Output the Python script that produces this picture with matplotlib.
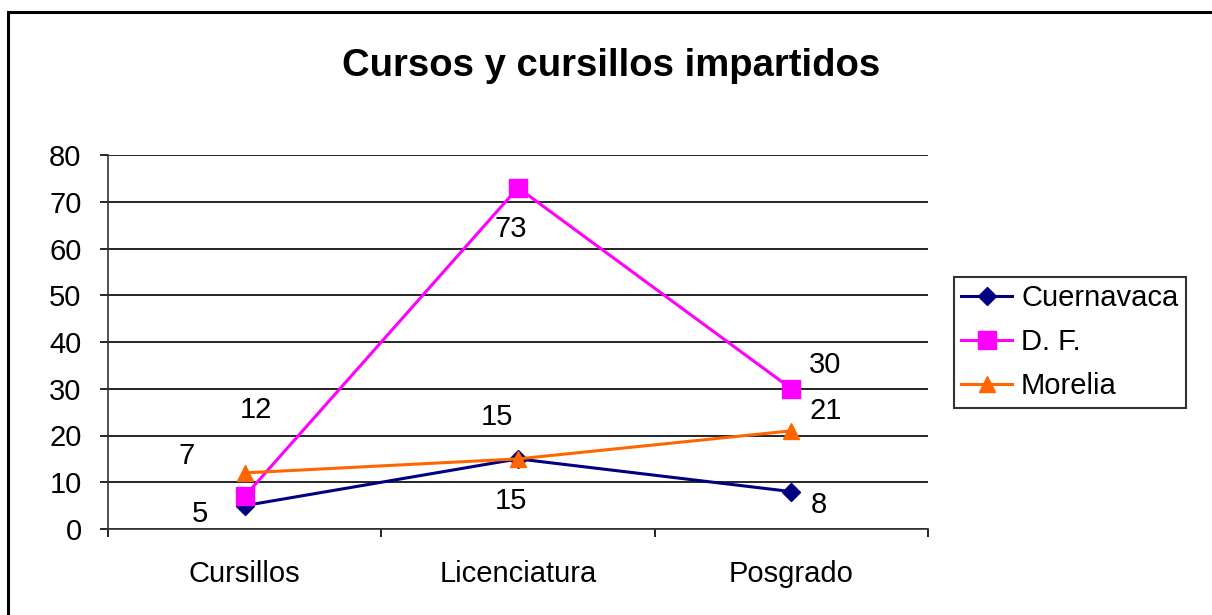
import matplotlib
matplotlib.use("Agg")
import matplotlib.pyplot as plt
from matplotlib.patches import Rectangle

plt.rcParams['font.family'] = ['Liberation Sans', 'DejaVu Sans']

categories = ["Cursillos", "Licenciatura", "Posgrado"]
cuernavaca = [5, 15, 8]
df = [7, 73, 30]
morelia = [12, 15, 21]

series = [
    ("Cuernavaca", cuernavaca, "#000080", "D", 9.5),
    ("D. F.", df, "#FF00FF", "s", 12.5),
    ("Morelia", morelia, "#FF6600", "^", 12),
]
# label offsets in points, per series and point
offsets = [
    [(-32, -6), (-5, -30), (20, -10)],
    [(-42, 29), (-5, -30), (24, 17)],
    [(8, 45), (-15, 30), (25, 14)],
]

fig = plt.figure(figsize=(12.12, 6.15), dpi=100)
ax = fig.add_axes([108 / 1212, 1 - 529 / 615, 820 / 1212, 374 / 615])

x = list(range(len(categories)))
for (name, vals, color, marker, ms), offs in zip(series, offsets):
    ax.plot(x, vals, color=color, lw=2.2, marker=marker, markersize=ms,
            markerfacecolor=color, markeredgecolor=color, label=name,
            clip_on=False, zorder=3)
    for xi, v, (dx, dy) in zip(x, vals, offs):
        ax.annotate(str(v), (xi, v), xytext=(dx, dy), textcoords="offset points",
                    ha="center", va="center", fontsize=21, color="black")

ax.set_xlim(-0.5, 2.5)
ax.set_ylim(0, 80)
ax.set_yticks(range(0, 81, 10))
ax.set_xticks(x)
ax.set_xticklabels(categories)
ax.set_xticks([-0.5, 0.5, 1.5, 2.5], minor=True)
ax.tick_params(axis="x", which="major", length=0, pad=22, labelsize=21)
ax.tick_params(axis="x", which="minor", length=6, width=1.2, direction="out")
ax.tick_params(axis="y", length=6, width=1.2, pad=13, labelsize=21)
ax.yaxis.grid(True, color="black", lw=1.2)
ax.set_axisbelow(True)
for s in ["top", "right"]:
    ax.spines[s].set_visible(False)
for s in ["left", "bottom"]:
    ax.spines[s].set_color("#333333")
    ax.spines[s].set_linewidth(1.2)

fig.text(611 / 1212, 1 - 66 / 615, "Cursos y cursillos impartidos",
         ha="center", va="center", fontsize=27.5, fontweight="bold")

leg = fig.legend(loc="upper left", bbox_to_anchor=(954 / 1212, 1 - 277 / 615),
                 fontsize=21, frameon=True, fancybox=False, edgecolor="black",
                 handlelength=1.75, handletextpad=0.3, labelspacing=0.55,
                 borderpad=0.25, borderaxespad=0)
leg.get_frame().set_linewidth(1.5)

fig.patches.append(Rectangle((8 / 1212, -0.1), 1.1, 1.1 - 12 / 615,
                             transform=fig.transFigure, fill=False,
                             edgecolor="black", lw=2.2))

fig.savefig("out.png", dpi=100)
